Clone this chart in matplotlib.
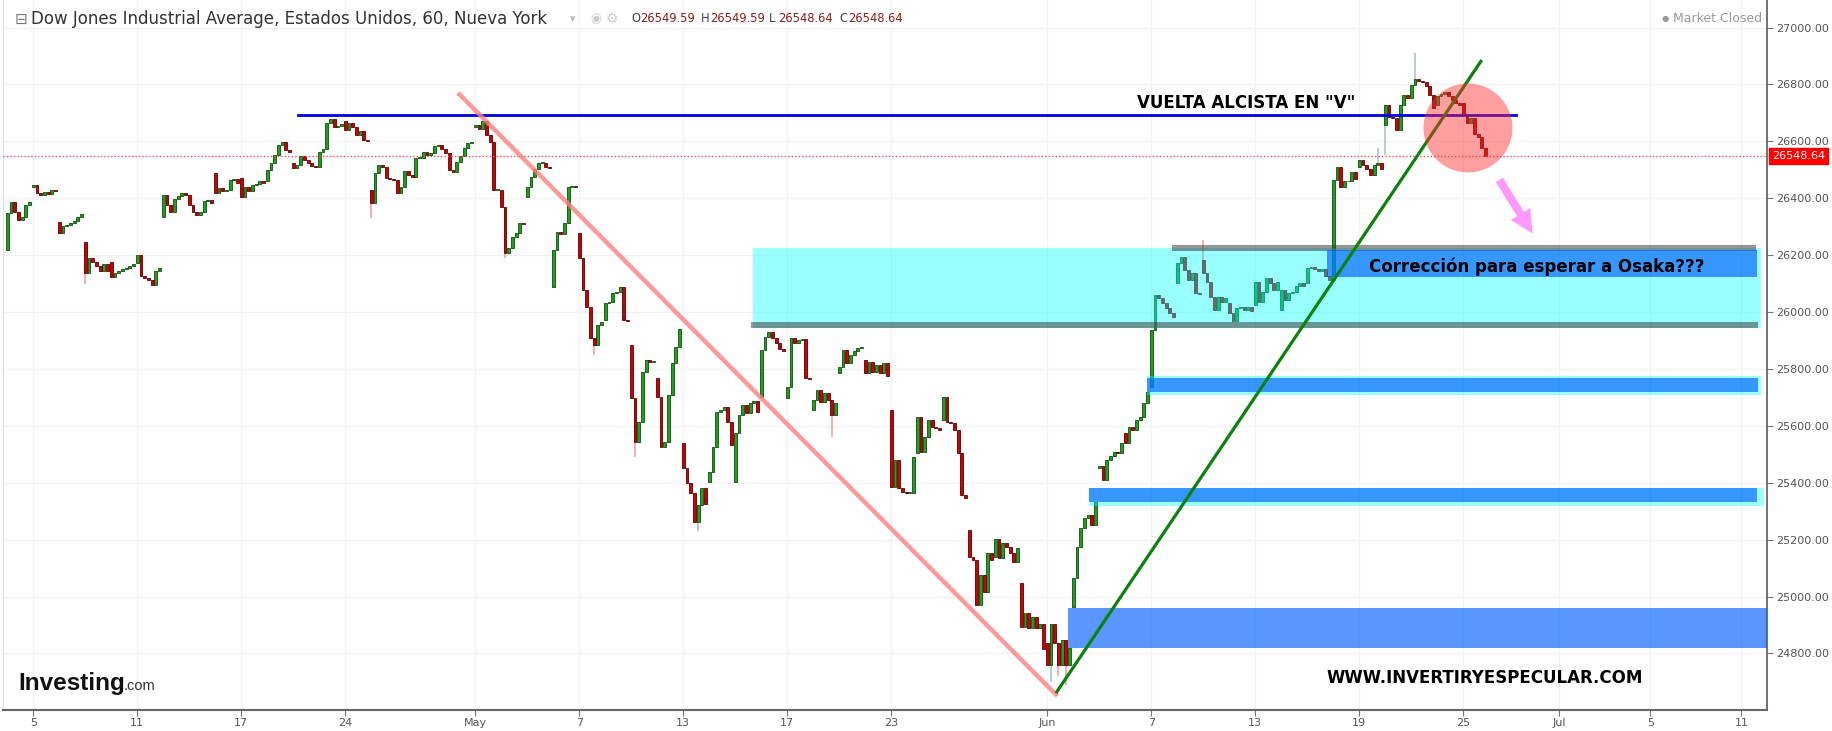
import numpy as np
import matplotlib
matplotlib.use("Agg")
import matplotlib.pyplot as plt
from matplotlib.patches import Rectangle, Ellipse
import matplotlib.transforms as mtransforms

# Dow Jones, 60 min bars, 7 bars per session (Apr 4 - Jun 25 2019)
# open of first bar of each session, then the 7 hourly closes
apr_opens = [26218, 26441, 26318, 26248, 26177, 26171, 26335, 26412, 26488,
             26470, 26459, 26523, 26509, 26670, 26429, 26465, 26541, 26558]
apr_closes = [
    [26347, 26388, 26353, 26324, 26333, 26376, 26388],
    [26447, 26420, 26412, 26423, 26415, 26429, 26427],
    [26277, 26303, 26306, 26314, 26321, 26333, 26345],
    [26136, 26189, 26177, 26162, 26146, 26169, 26146],
    [26124, 26136, 26146, 26150, 26156, 26162, 26169],
    [26201, 26127, 26119, 26113, 26095, 26146, 26154],
    [26412, 26376, 26353, 26396, 26408, 26417, 26412],
    [26376, 26350, 26341, 26353, 26392, 26394, 26385],
    [26418, 26435, 26424, 26429, 26465, 26467, 26453],
    [26406, 26441, 26424, 26447, 26450, 26459, 26453],
    [26500, 26523, 26552, 26588, 26599, 26570, 26564],
    [26506, 26517, 26547, 26535, 26523, 26514, 26509],
    [26564, 26572, 26664, 26678, 26650, 26654, 26661],
    [26640, 26664, 26650, 26623, 26638, 26605, 26603],
    [26383, 26488, 26517, 26511, 26470, 26467, 26465],
    [26418, 26441, 26497, 26482, 26474, 26541, 26543],
    [26564, 26553, 26558, 26582, 26588, 26572, 26558],
    [26500, 26494, 26529, 26547, 26576, 26594, 26599],
]
may_opens = [26652, 26430, 26406, 26089, 26277, 25972, 25884, 25767, 25538, 25404, 25404,
             25702, 25697, 25656, 25785, 25831, 25656, 25503, 25620, 25234, 25140, 25046]
may_closes = [
    [26658, 26645, 26670, 26623, 26599, 26429, 26430],
    [26371, 26207, 26225, 26265, 26277, 26312, 26308],
    [26441, 26476, 26502, 26523, 26525, 26511, 26505],
    [26218, 26283, 26275, 26312, 26441, 26443, 26438],
    [26189, 26078, 26019, 25908, 25884, 25955, 25965],
    [26031, 26037, 26066, 26072, 26089, 25972, 25968],
    [25697, 25544, 25615, 25790, 25831, 25826, 25828],
    [25702, 25527, 25544, 25708, 25820, 25878, 25942],
    [25450, 25398, 25363, 25263, 25322, 25380, 25325],
    [25439, 25527, 25650, 25656, 25667, 25615, 25532],
    [25574, 25638, 25673, 25644, 25679, 25688, 25648],
    [25867, 25913, 25931, 25908, 25890, 25869, 25863],
    [25738, 25908, 25890, 25902, 25904, 25767, 25764],
    [25691, 25726, 25685, 25714, 25691, 25638, 25680],
    [25808, 25867, 25820, 25849, 25864, 25872, 25877],
    [25785, 25826, 25790, 25814, 25785, 25822, 25776],
    [25386, 25480, 25380, 25368, 25363, 25363, 25490],
    [25632, 25509, 25562, 25620, 25597, 25591, 25586],
    [25702, 25615, 25609, 25585, 25503, 25357, 25348],
    [25140, 25128, 24970, 25075, 25017, 25152, 25127],
    [25201, 25134, 25187, 25175, 25152, 25122, 25170],
    [24894, 24941, 24888, 24929, 24888, 24905, 24815],
]
jun_opens = [24835, 24964, 25450, 25574, 25735, 26101, 26183, 26031, 26025,
             26008, 26101, 26113, 26511, 26658, 26752, 26728, 26734]
jun_closes = [
    [24759, 24905, 24835, 24759, 24847, 24759, 24820],
    [25064, 25175, 25240, 25275, 25286, 25251, 25333],
    [25459, 25409, 25480, 25494, 25509, 25503, 25540],
    [25538, 25597, 25585, 25620, 25630, 25679, 25720],
    [25937, 26060, 26049, 26031, 26013, 25996, 25984],
    [26172, 26195, 26148, 26113, 26136, 26066, 26062],
    [26136, 26107, 26054, 26008, 26054, 26037, 26049],
    [25996, 25967, 26013, 26019, 26008, 26017, 26005],
    [26107, 26037, 26072, 26119, 26101, 26078, 26107],
    [26078, 26043, 26066, 26072, 26090, 26101, 26090],
    [26154, 26158, 26150, 26146, 26150, 26125, 26112],
    [26464, 26511, 26441, 26459, 26459, 26494, 26466],
    [26535, 26517, 26502, 26482, 26517, 26523, 26504],
    [26728, 26687, 26681, 26640, 26728, 26763, 26753],
    [26799, 26819, 26814, 26807, 26793, 26763, 26719],
    [26760, 26767, 26772, 26760, 26744, 26734, 26727],
    [26693, 26666, 26681, 26626, 26615, 26576, 26548.64],
]

# the longer wicks that stand out (session index, bar in session, high, low)
wick_day = [3, 14, 19, 22, 24, 26, 31, 40, 40, 40, 46, 52, 53, 54]
wick_bar = [0, 0, 1, 4, 1, 4, 5, 1, 3, 5, 0, 5, 0, 1]
wick_high = [np.nan] * 10 + [26254, 26576, np.nan, 26910]
wick_low = [26100, 26330, 26190, 25850, 25490, 25230, 25560, 24700, 24720, 24690,
            np.nan, np.nan, 26553, np.nan]

last_price = 26548.64
resist_level = 26692
header_ohlc = ["26549.59", "26549.59", "26548.64", "26548.64"]

tick_days = [1, 5, 9, 13, 18, 22, 26, 30, 34, 40, 44, 48, 52, 56, 59.7, 63.2, 66.7]
tick_labels = ["5", "11", "17", "24", "May", "7", "13", "17", "23",
               "Jun", "7", "13", "19", "25", "Jul", "5", "11"]
y_ticks = [24800, 25000, 25200, 25400, 25600, 25800, 26000, 26200, 26400, 26600, 26800, 27000]

day_opens = apr_opens + may_opens + jun_opens
day_closes = apr_closes + may_closes + jun_closes

xs, opens, closes = [], [], []
for d, (o, cl) in enumerate(zip(day_opens, day_closes)):
    prev = o
    for h, c in enumerate(cl):
        xs.append(d + h / 7)
        opens.append(prev)
        closes.append(c)
        prev = c
xs = np.array(xs)
opens = np.array(opens, dtype=float)
closes = np.array(closes, dtype=float)
up = closes >= opens

fig = plt.figure(figsize=(18.32, 7.31), dpi=100)
ax = fig.add_axes([3.3 / 1832, 21 / 731, (1766.7 - 3.3) / 1832, 710 / 731])
ax.set_xlim(-0.154, 67.67)
ax.set_ylim(24601, 27097)

ax.grid(True, color="#f2f2f2", lw=0.9, zorder=0)
ax.set_axisbelow(True)

# wicks
idx = [d * 7 + b for d, b in zip(wick_day, wick_bar)]
for i, hi, lo in zip(idx, wick_high, wick_low):
    top = hi if not np.isnan(hi) else max(opens[i], closes[i])
    bot = lo if not np.isnan(lo) else min(opens[i], closes[i])
    col = "#a9c3cf" if up[i] else "#f2a0a0"
    ax.vlines(xs[i], bot, top, color=col, lw=1.2, zorder=2)

# candle bodies
body = np.maximum(np.abs(closes - opens), 3)
bottom = np.minimum(opens, closes)
ax.bar(xs[up], body[up], bottom=bottom[up], width=0.11, color="#1f9e1f",
       edgecolor="#0e4f0e", linewidth=0.6, zorder=3)
ax.bar(xs[~up], body[~up], bottom=bottom[~up], width=0.11, color="#cc0000",
       edgecolor="#5c0000", linewidth=0.6, zorder=3)

# support / resistance zones
ax.add_patch(Rectangle((28.68, 25944), 67.45 - 28.68, 26225 - 25944,
                       color="#00ffff", alpha=0.4, lw=0, zorder=4))
ax.add_patch(Rectangle((44.79, 26213), 67.26 - 44.79, 23, color="#404040", alpha=0.55, lw=0, zorder=5))
ax.add_patch(Rectangle((28.60, 25943), 67.33 - 28.60, 23, color="#404040", alpha=0.55, lw=0, zorder=5))
ax.add_patch(Rectangle((50.76, 26123), 67.30 - 50.76, 26218 - 26123,
                       color="#0060ff", alpha=0.65, lw=0, zorder=5))
ax.add_patch(Rectangle((43.83, 25708), 67.45 - 43.83, 25775 - 25708,
                       color="#00ffff", alpha=0.4, lw=0, zorder=4))
ax.add_patch(Rectangle((43.83, 25719), 67.33 - 43.83, 25768 - 25719,
                       color="#0060ff", alpha=0.65, lw=0, zorder=5))
ax.add_patch(Rectangle((41.6, 25318), 67.56 - 41.6, 25381 - 25318,
                       color="#00ffff", alpha=0.4, lw=0, zorder=4))
ax.add_patch(Rectangle((41.6, 25332), 67.30 - 41.6, 25381 - 25332,
                       color="#0060ff", alpha=0.65, lw=0, zorder=5))
ax.add_patch(Rectangle((40.8, 24819), 67.67 - 40.8, 24959 - 24819,
                       color="#0060ff", alpha=0.65, lw=0, zorder=5))

# lines
ax.axhline(last_price, color="#ff4d4d", lw=1, ls=(0, (1, 1.5)), zorder=4)
ax.plot([11.2, 58.04], [resist_level, resist_level], color="#0000e6", lw=2, zorder=6)
ax.plot([17.33, 40.39], [26771, 24650], color="#ff8080", lw=3.2, alpha=0.8,
        solid_capstyle="butt", zorder=6)
ax.plot([40.33, 56.71], [24660, 26886], color="#0b820b", lw=2.3,
        solid_capstyle="butt", zorder=6)
ax.add_patch(Ellipse((56.18, 26647), 2 * 44.5 / 26, 2 * 44.5 / 0.2844,
                     color="#ff2a2a", alpha=0.45, lw=0, zorder=7))
ax.annotate("", xy=(58.72, 26268), xytext=(57.33, 26473),
            arrowprops=dict(arrowstyle="simple,head_length=0.75,head_width=0.75,tail_width=0.27",
                            color="#ff99ff", lw=0, mutation_scale=22), zorder=7)

bold = dict(fontsize=12, fontweight="bold", color="black", family="DejaVu Sans", zorder=8)
ax.text(47.64, 26736, 'VUELTA ALCISTA EN "V"', ha="center", va="center", **bold)
ax.text(52.37, 26158, "Corrección para esperar a Osaka???", ha="left", va="center", **bold)
ax.text(50.72, 24712, "WWW.INVERTIRYESPECULAR.COM", ha="left", va="center", **bold)

# axes styling
ax.yaxis.tick_right()
ax.set_yticks(y_ticks)
ax.set_yticklabels([f"{v:.2f}" for v in y_ticks])
ax.set_xticks(tick_days)
ax.set_xticklabels(tick_labels)
ax.tick_params(axis="both", colors="#777777", labelcolor="#555555", labelsize=8, length=4, width=0.8)
ax.tick_params(axis="y", pad=3)
ax.tick_params(axis="x", pad=2)
ax.spines["top"].set_visible(False)
ax.spines["left"].set_color("#dddddd")
ax.spines["right"].set_color("#666666")
ax.spines["right"].set_linewidth(1.3)
ax.spines["bottom"].set_color("#666666")
ax.spines["bottom"].set_linewidth(1.5)

trans = mtransforms.blended_transform_factory(ax.transAxes, ax.transData)
ax.text(1.003, last_price, "26548.64", transform=trans, ha="left", va="center",
        color="white", fontsize=8, clip_on=False, zorder=9,
        bbox=dict(boxstyle="square,pad=0.3", fc="#ff0000", ec="#ff0000"))

# logo
ax.text(0.0085, 0.028, "Investing", transform=ax.transAxes, fontsize=17.5, fontweight="bold",
        family="Liberation Sans", color="#111111", va="baseline", zorder=8)
ax.text(0.0685, 0.028, ".com", transform=ax.transAxes, fontsize=10.5,
        family="Liberation Sans", color="#333333", va="baseline", zorder=8)

# header
ty = 1 - 19 / 731
fig.text(15 / 1832, ty, "⊟", fontsize=11, color="#777777", va="center")
fig.text(31.5 / 1832, ty, "Dow Jones Industrial Average, Estados Unidos, 60, Nueva York",
         fontsize=12, color="#333333", va="center")
fig.text(570 / 1832, ty, "▾", fontsize=8, color="#bbbbbb", va="center")
fig.text(590 / 1832, ty, "◉", fontsize=9, color="#cccccc", va="center")
fig.text(606 / 1832, ty, "⚙", fontsize=10, color="#cccccc", va="center")
for px, lab, val in zip([631, 701, 769, 839], ["O", "H", "L", "C"], header_ohlc):
    fig.text(px / 1832, ty, lab, fontsize=8.3, color="#444444", va="center")
    fig.text((px + 9.5) / 1832, ty, val, fontsize=8.3, color="#8b1a1a", va="center")
fig.text(1662 / 1832, ty, "●", fontsize=6, color="#999999", va="center")
fig.text(1673 / 1832, ty, "Market Closed", fontsize=9, color="#999999", va="center")

fig.savefig("out.png", dpi=100)
